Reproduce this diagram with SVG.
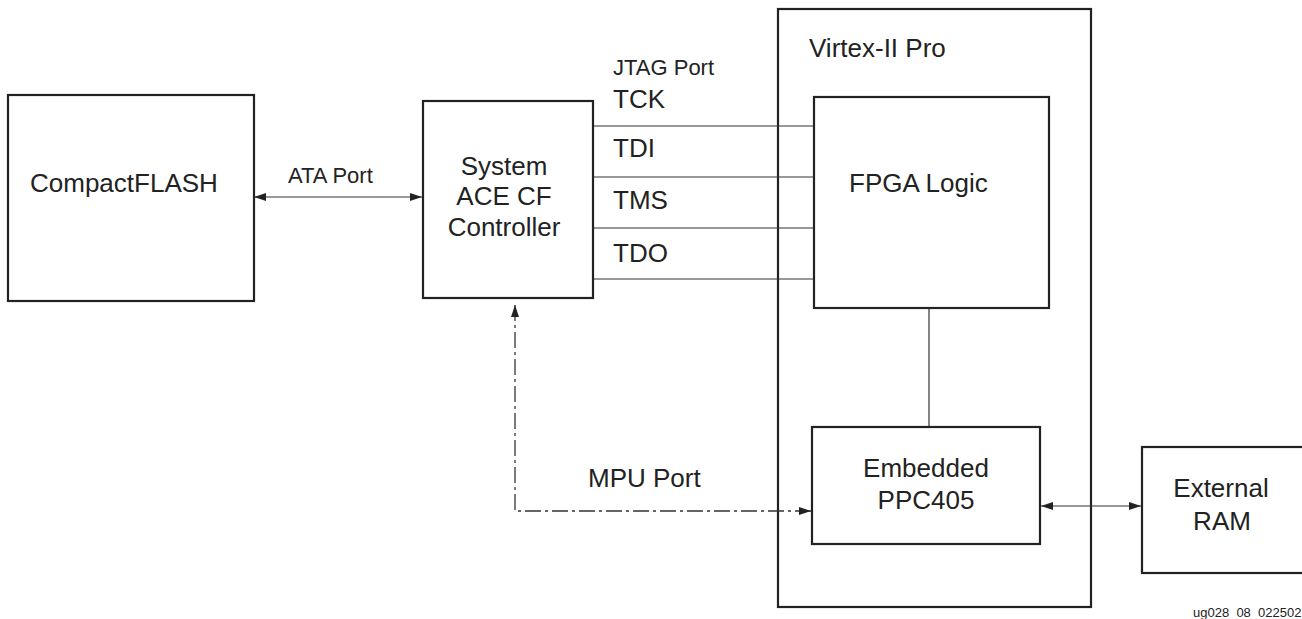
<svg xmlns="http://www.w3.org/2000/svg" width="1302" height="619" viewBox="0 0 1302 619">
<defs>
<style>
.box{fill:#fff;stroke:#222;stroke-width:2.2}
.frame{fill:none;stroke:#222;stroke-width:2.2}
.ln{fill:none;stroke:#333;stroke-width:1.2}
.dash{fill:none;stroke:#333;stroke-width:1.3;stroke-dasharray:16 4 3 4}
text{font-family:"Liberation Sans",Arial,sans-serif;fill:#222}
.lbl{font-size:26px}
.mid{text-anchor:middle}
.sm{font-size:22px}
.tiny{font-size:13px}
</style>
<marker id="ah" viewBox="0 0 12 8" refX="12" refY="4" markerWidth="12" markerHeight="8" markerUnits="userSpaceOnUse" orient="auto-start-reverse">
<path d="M0,0 L12,4 L0,8 z" fill="#222"/>
</marker>
</defs>
<rect width="1302" height="619" fill="#fff"/>

<g id="virtex">
<rect class="frame" x="778" y="9" width="313" height="598"/>
<text class="lbl" x="809" y="57">Virtex-II Pro</text>
</g>

<g id="connectors">
<line class="ln" x1="254" y1="197" x2="422" y2="197" marker-start="url(#ah)" marker-end="url(#ah)"/>
<line class="ln" x1="593" y1="126" x2="813" y2="126"/>
<line class="ln" x1="593" y1="177" x2="813" y2="177"/>
<line class="ln" x1="593" y1="228" x2="813" y2="228"/>
<line class="ln" x1="593" y1="279" x2="813" y2="279"/>
<line class="ln" x1="929" y1="308" x2="929" y2="427"/>
<line class="ln" x1="1041" y1="506" x2="1141" y2="506" marker-start="url(#ah)" marker-end="url(#ah)"/>
<path class="dash" d="M811,511 L515,511 L515,305" marker-start="url(#ah)" marker-end="url(#ah)"/>
<text class="sm" x="288" y="183">ATA Port</text>
<text class="sm" x="613" y="75">JTAG Port</text>
<text class="lbl" x="613" y="108">TCK</text>
<text class="lbl" x="613" y="157">TDI</text>
<text class="lbl" x="613" y="209">TMS</text>
<text class="lbl" x="613" y="262">TDO</text>
<text class="lbl" x="588" y="487">MPU Port</text>
</g>

<g id="compactflash">
<rect class="box" x="8" y="95" width="246" height="206"/>
<text class="lbl" x="30" y="192">CompactFLASH</text>
</g>

<g id="sysace">
<rect class="box" x="423" y="101" width="170" height="197"/>
<text class="lbl mid" x="504" y="175">System</text>
<text class="lbl mid" x="504" y="205">ACE CF</text>
<text class="lbl mid" x="504" y="236">Controller</text>
</g>

<g id="fpga">
<rect class="box" x="814" y="97" width="235" height="211"/>
<text class="lbl" x="849" y="192">FPGA Logic</text>
</g>

<g id="ppc">
<rect class="box" x="812" y="427" width="228" height="117"/>
<text class="lbl mid" x="926" y="477">Embedded</text>
<text class="lbl mid" x="926" y="509">PPC405</text>
</g>

<g id="ram">
<rect class="box" x="1142" y="447" width="170" height="126"/>
<text class="lbl mid" x="1221" y="497">External</text>
<text class="lbl mid" x="1222" y="530">RAM</text>
</g>

<text class="tiny" x="1193" y="617">ug028_08_022502</text>
</svg>
